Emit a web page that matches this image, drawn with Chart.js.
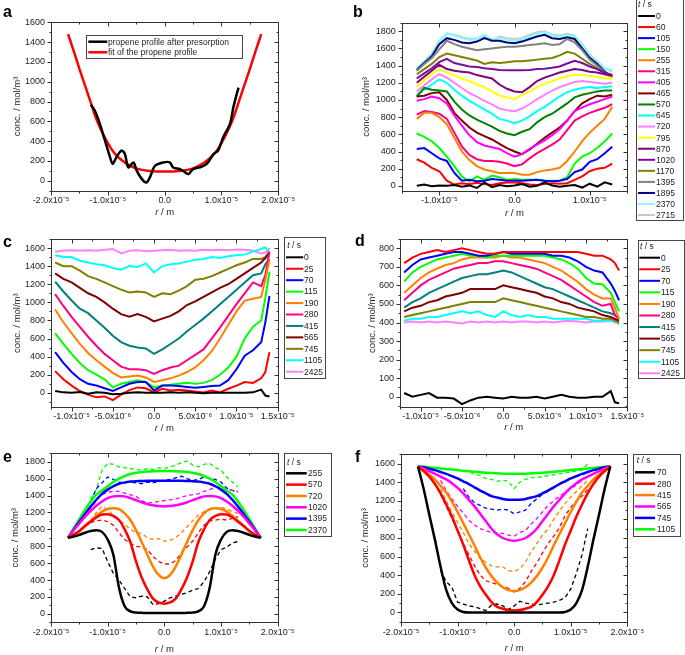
<!DOCTYPE html>
<html><head><meta charset="utf-8">
<script src="https://cdn.jsdelivr.net/npm/chart.js@4.4.1/dist/chart.umd.min.js"></script>
<style>
html,body{margin:0;padding:0;background:#fff;}
#wrap{position:relative;width:685px;height:655px;overflow:hidden;background:#fff;}
canvas{position:absolute;}
</style></head><body><div id="wrap"></div>
<script>
// ================= DATA =================
// x positions in micrometres (1 um = 1e-6 m)
const rFit = [-17,-16,-15,-14,-13,-12,-11,-10,-9,-8,-7,-6,-5,-4,-3,-2,-1,0,1,2,3,4,5,6,7,8,9,10,11,12,13,14,15,16,17];
const rGrid = [-13,-12,-11,-10,-9,-8,-7,-6,-5,-4,-3,-2,-1,0,1,2,3,4,5,6,7,8,9,10,11,12,13];
const rCD = [-12,-11,-10,-9,-8,-7,-6,-5,-4,-3,-2,-1,0,1,2,3,4,5,6,7,8,9,10,11,12,13,13.5,14];

// ---- panel a ----
const rA_meas = [-13.0,-12.3,-11.4,-10.5,-9.6,-9.15,-8.5,-7.6,-7.0,-6.4,-5.5,-4.9,-4.0,-3.2,-2.6,-1.7,-0.2,0.9,1.5,2.7,3.6,4.2,5.0,6.2,7.4,8.6,9.4,10.3,11.5,12.1,12.7,13.0];
const cA_meas = [768,710,575,406,237,170,237,305,271,135,186,100,17,-17,34,152,186,186,135,118,85,68,118,135,170,270,305,440,575,744,880,940];
const cA_fit = [1480,1310,1130,960,790,620,490,380,290,230,185,150,125,110,102,97,95,95,95,97,102,110,125,150,185,230,290,380,490,620,790,960,1130,1310,1480];
const aLegend = ['propene profile after presorption','fit of the propene profile'];

// ---- panel b ----
const tB = ['0','60','105','150','255','315','405','465','570','645','720','795','870','1020','1170','1395','1895','2370','2715'];
const colB = ['#000000','#ff0000','#0000ff','#00ff00','#ff8000','#ff0080','#ff00ff','#800000','#008000','#00ffff','#ff80ff','#ffff00','#800080','#7a0aa0','#808000','#808080','#000080','#80ffff','#c8c8c8'];
const b0 = [0,15,-5,5,0,10,-10,5,-25,40,-15,10,-5,5,20,-10,0,40,5,-10,0,10,-20,25,-10,40,15];
const b60 = [310,270,210,170,60,15,30,20,35,20,10,30,40,40,30,15,10,20,30,25,30,70,110,170,200,210,260];
const b105 = [430,440,380,320,290,150,60,70,55,60,80,70,60,60,60,65,70,60,55,60,80,160,190,280,310,380,455];
const b150 = [610,570,520,440,340,230,110,50,110,70,120,100,70,80,70,70,70,60,60,60,100,260,340,380,440,520,610];
const b255 = [780,850,850,800,720,560,400,300,230,190,170,150,150,150,130,130,160,180,190,210,290,400,520,620,700,780,920];
const b315 = [830,870,860,840,780,620,460,360,310,290,290,280,260,230,250,320,380,430,480,540,650,760,810,850,880,910,950];
const b405 = [990,1010,1040,1020,960,820,700,590,510,470,450,430,380,340,370,430,480,530,590,660,760,870,910,950,980,1010,1040];
const b465 = [1040,1050,1080,1090,1000,850,760,680,620,580,540,490,440,400,370,420,490,560,620,680,760,870,960,1010,1050,1040,1060];
const b570 = [1040,1140,1120,1110,1100,980,890,820,770,730,690,640,610,590,630,660,740,800,840,900,960,1030,1060,1080,1100,1110,1110];
const b645 = [1060,1120,1180,1240,1200,1120,1050,990,940,890,840,780,760,730,760,810,870,920,980,1040,1090,1120,1140,1150,1140,1150,1160];
const b720 = [1100,1170,1240,1300,1260,1200,1140,1080,1040,990,950,900,880,870,900,950,1010,1060,1110,1150,1180,1210,1220,1210,1200,1190,1200];
const b795 = [1150,1230,1300,1360,1320,1290,1250,1220,1180,1150,1100,1050,1030,1010,1060,1100,1150,1190,1220,1250,1280,1290,1290,1280,1270,1250,1250];
const b870 = [1200,1270,1340,1410,1360,1340,1330,1320,1290,1270,1250,1180,1130,1100,1090,1150,1220,1260,1290,1320,1340,1360,1350,1330,1320,1300,1290];
const b1020 = [1250,1310,1370,1440,1480,1430,1410,1390,1385,1370,1360,1350,1345,1346,1345,1350,1360,1365,1375,1390,1425,1455,1430,1390,1360,1320,1290];
const b1170 = [1300,1360,1420,1500,1540,1520,1500,1480,1460,1420,1440,1430,1440,1450,1450,1460,1470,1480,1490,1520,1560,1540,1480,1420,1370,1300,1270];
const b1395 = [1340,1420,1490,1590,1690,1650,1620,1600,1580,1590,1600,1610,1620,1620,1630,1640,1650,1660,1640,1650,1710,1670,1580,1470,1400,1320,1280];
const b1895 = [1350,1430,1510,1650,1720,1700,1670,1660,1680,1720,1690,1690,1670,1660,1680,1710,1740,1760,1720,1710,1730,1710,1600,1490,1420,1330,1270];
const b2370 = [1360,1440,1530,1680,1780,1750,1720,1700,1710,1760,1700,1720,1700,1690,1700,1740,1770,1790,1750,1740,1760,1740,1640,1520,1440,1360,1350];
const b2715 = [1370,1450,1540,1690,1770,1760,1730,1710,1720,1740,1690,1740,1720,1710,1720,1760,1790,1800,1760,1750,1770,1750,1650,1530,1450,1370,1330];
const cB = [b0,b60,b105,b150,b255,b315,b405,b465,b570,b645,b720,b795,b870,b1020,b1170,b1395,b1895,b2370,b2715];

// ---- panels c, d ----
const tCD = ['0','25','70','115','190','280','415','565','745','1105','2425'];
const colCD = ['#000000','#ff0000','#0000ff','#00ff00','#ff8000','#ff0080','#008080','#800000','#808000','#00ffff','#ff80ff'];
const c0 = [20,5,0,10,-10,5,0,-15,-10,0,5,0,0,0,5,0,5,0,-5,0,0,0,0,0,5,35,-30,-40];
const c25 = [240,150,80,20,-20,-50,-40,-80,-20,30,60,50,5,45,25,35,25,15,5,25,5,45,80,120,110,160,230,450];
const c70 = [450,330,230,150,100,80,50,20,60,100,120,120,25,80,80,75,65,55,65,75,80,140,260,410,470,560,780,1070];
const c115 = [660,540,430,330,250,200,150,60,100,120,140,120,60,80,90,100,110,100,110,140,200,280,400,600,730,800,1050,1340];
const c190 = [920,780,660,540,440,360,290,220,170,180,190,170,120,140,160,190,230,280,360,460,600,750,900,1020,1040,1060,1250,1470];
const c280 = [1090,960,840,730,620,520,430,360,290,260,260,250,210,250,280,300,360,420,480,600,720,850,980,1100,1220,1180,1300,1560];
const c415 = [1230,1120,1020,930,880,800,720,630,560,520,500,490,430,480,540,600,680,750,820,900,980,1060,1140,1220,1300,1320,1420,1480];
const c565 = [1320,1260,1220,1160,1100,1060,1000,930,870,840,870,840,790,820,850,900,970,1010,1060,1110,1160,1200,1260,1320,1380,1440,1490,1550];
const c745 = [1440,1400,1400,1350,1290,1260,1220,1180,1140,1110,1120,1110,1060,1100,1090,1130,1180,1250,1260,1290,1330,1370,1410,1440,1480,1480,1500,1560];
const c1105 = [1520,1500,1500,1460,1440,1420,1410,1380,1360,1400,1390,1430,1330,1400,1420,1430,1450,1470,1480,1500,1490,1510,1520,1530,1560,1590,1610,1540];
const c2425 = [1560,1570,1575,1570,1575,1570,1580,1590,1540,1570,1575,1565,1570,1575,1580,1570,1575,1570,1580,1575,1580,1575,1585,1580,1570,1540,1550,1600];
const cC = [c0,c25,c70,c115,c190,c280,c415,c565,c745,c1105,c2425];

const d0 = [20,0,10,20,-5,-5,-10,-40,-20,-5,0,-5,-10,0,-5,-5,0,-10,0,10,0,-5,-5,0,0,30,-30,-35];
const d25 = [720,750,770,780,790,780,790,800,790,780,770,770,780,780,780,780,780,780,780,780,780,780,770,760,760,740,720,680];
const d70 = [670,710,740,750,760,770,780,780,770,760,760,770,780,770,770,770,770,770,760,760,750,730,700,680,670,610,570,520];
const d115 = [620,670,700,720,740,750,760,770,760,760,750,760,760,760,760,760,760,760,750,740,720,690,640,610,605,560,510,460];
const d190 = [560,600,640,670,690,710,720,740,750,750,750,750,760,750,750,740,730,720,700,680,650,620,580,550,530,530,480,420];
const d280 = [520,560,600,630,650,670,690,700,710,720,720,730,730,720,710,700,690,670,650,630,600,570,540,510,490,500,440,420];
const d415 = [480,510,530,560,580,600,620,640,650,660,660,670,680,670,650,630,610,590,580,560,540,520,500,480,460,450,440,420];
const d565 = [460,480,490,510,520,540,550,560,580,580,580,580,600,590,580,570,560,540,530,510,500,480,470,460,440,430,420,410];
const d745 = [430,440,450,460,470,480,490,500,510,510,510,510,530,520,510,500,490,480,470,460,450,440,430,430,420,420,410,400];
const d1105 = [410,420,420,430,430,440,450,460,450,460,440,430,460,440,430,440,430,430,420,420,420,420,420,410,410,410,410,390];
const d2425 = [400,405,400,405,400,405,400,395,405,400,405,400,405,400,405,405,400,405,400,405,410,405,400,405,405,410,400,400];
const cD = [d0,d25,d70,d115,d190,d280,d415,d565,d745,d1105,d2425];

// ---- panel e ----
const tE = ['255','570','720','1020','1395','2370'];
const colE = ['#000000','#ff0000','#ff8000','#ff00ff','#0000ff','#00ff00'];
const eFit255 = [900,915,935,960,980,990,970,880,700,310,90,30,15,12,10,10,10,10,10,10,10,12,15,30,90,310,700,880,970,990,980,960,935,915,900];
const eFit570 = [900,935,980,1040,1090,1140,1175,1180,1160,1110,1000,850,620,430,290,180,135,120,135,180,290,430,620,850,1000,1110,1160,1180,1175,1140,1090,1040,980,935,900];
const eFit720 = [900,935,980,1040,1100,1160,1210,1240,1250,1240,1190,1110,990,850,700,560,460,420,460,560,700,850,990,1110,1190,1240,1250,1240,1210,1160,1100,1040,980,935,900];
const eFit1020 = [900,990,1070,1150,1220,1280,1330,1370,1390,1395,1390,1370,1345,1320,1300,1285,1275,1270,1275,1285,1300,1320,1345,1370,1390,1395,1390,1370,1330,1280,1220,1150,1070,990,900];
const eFit1395 = [900,995,1090,1180,1270,1350,1420,1470,1510,1540,1555,1565,1570,1572,1575,1575,1575,1575,1575,1575,1575,1572,1570,1565,1555,1540,1510,1470,1420,1350,1270,1180,1090,995,900];
const eFit2370 = [900,1010,1120,1230,1330,1410,1460,1510,1560,1600,1630,1655,1670,1680,1685,1688,1690,1690,1690,1688,1685,1680,1670,1655,1630,1600,1560,1510,1460,1410,1330,1230,1120,1010,900];
const eMeas255 = [760,780,775,620,480,400,300,200,190,210,200,110,120,150,190,210,230,250,280,300,380,500,650,760,790,840,855];
const eMeas570 = [1080,1100,1110,1090,1050,960,880,830,800,790,760,680,620,590,590,630,720,790,860,960,1050,1100,1110,1120,1110,1130,1150];
const eMeas720 = [1100,1200,1270,1240,1160,1110,1060,1000,960,950,900,880,890,860,870,900,960,1030,1100,1170,1210,1230,1250,1260,1240,1210,1190];
const eMeas1020 = [1210,1350,1410,1440,1450,1450,1430,1410,1390,1340,1310,1320,1330,1340,1350,1360,1380,1400,1410,1420,1450,1470,1500,1500,1480,1460,1450];
const eMeas1395 = [1330,1480,1550,1620,1590,1560,1550,1560,1550,1540,1560,1550,1570,1580,1590,1610,1630,1600,1580,1590,1620,1600,1590,1560,1490,1460,1440];
const eMeas2370 = [1360,1470,1700,1780,1770,1740,1730,1720,1710,1700,1720,1710,1730,1720,1740,1760,1790,1810,1760,1740,1770,1780,1730,1700,1620,1560,1500];
const eFits = [eFit255,eFit570,eFit720,eFit1020,eFit1395,eFit2370];
const eMeas = [eMeas255,eMeas570,eMeas720,eMeas1020,eMeas1395,eMeas2370];

// ---- panel f ----
const tF = ['70','280','415','565','745','1105'];
const colF = ['#000000','#ff0000','#ff8000','#ff00ff','#0000ff','#00ff00'];
const fFit70 = [1570,1330,1050,780,490,240,100,30,5,0,0,0,0,0,0,0,0,0,0,0,0,0,0,0,0,0,5,30,100,240,490,780,1050,1330,1570];
const fFit280 = [1570,1520,1460,1380,1280,1160,1030,880,730,560,400,280,190,110,60,40,25,20,25,40,60,110,190,280,400,560,730,880,1030,1160,1280,1380,1460,1520,1570];
const fFit415 = [1570,1530,1480,1430,1360,1290,1190,1080,960,840,720,590,480,390,320,270,240,230,240,270,320,390,480,590,720,840,960,1080,1190,1290,1360,1430,1480,1530,1570];
const fFit565 = [1570,1545,1520,1490,1460,1430,1390,1340,1280,1210,1140,1060,980,900,840,800,780,770,780,800,840,900,980,1060,1140,1210,1280,1340,1390,1430,1460,1490,1520,1545,1570];
const fFit745 = [1570,1560,1545,1530,1510,1490,1465,1440,1410,1380,1345,1310,1280,1250,1235,1220,1212,1210,1212,1220,1235,1250,1280,1310,1345,1380,1410,1440,1465,1490,1510,1530,1545,1560,1570];
const fFit1105 = [1570,1565,1560,1554,1548,1542,1536,1530,1524,1518,1512,1507,1502,1498,1495,1492,1490,1490,1490,1492,1495,1498,1502,1507,1512,1518,1524,1530,1536,1542,1548,1554,1560,1565,1570];
const fMeas70 = [450,330,270,110,90,70,60,40,20,80,90,70,30,70,120,100,90,80,90,100,110,130,160,250,420,620,900];
const fMeas280 = [1270,1140,1010,880,740,620,500,400,340,320,300,280,260,220,260,330,440,530,640,740,820,910,1040,1130,1200,1250,1320];
const fMeas415 = [1330,1200,1080,970,860,740,660,580,540,500,490,490,450,440,470,540,650,740,830,900,1000,1090,1170,1240,1300,1360,1420];
const fMeas565 = [1420,1310,1220,1140,1070,990,940,900,880,860,850,850,830,820,860,880,950,1010,1080,1150,1200,1250,1290,1330,1370,1420,1470];
const fMeas745 = [null,null,null,null,1330,1240,1180,1150,1120,1110,1100,1110,1100,1060,1080,1100,1170,1220,1270,1300,1340,1380,1410,1440,1460,1480,1500];
const fMeas1105 = [null,null,null,null,1520,1510,1490,1470,1440,1430,1410,1420,1410,1330,1400,1430,1450,1450,1460,1470,1480,1490,1500,1510,1520,1530,1600];
const fFits = [fFit70,fFit280,fFit415,fFit565,fFit745,fFit1105];
const fMeas = [fMeas70,fMeas280,fMeas415,fMeas565,fMeas745,fMeas1105];

// ---- axis ticks ----
const xTicksWide = [-20,-10,0,10,20];
const xLabelsWide = ['-2.0x10\u207B\u2075','-1.0x10\u207B\u2075','0.0','1.0x10\u207B\u2075','2.0x10\u207B\u2075'];
const xTicksB = [-10,0,10];
const xLabelsB = ['-1.0x10\u207B\u2075','0.0','1.0x10\u207B\u2075'];
const xTicksCD = [-10,-5,0,5,10,15];
const xLabelsCD = ['-1.0x10\u207B\u2075','-5.0x10\u207B\u2076','0.0','5.0x10\u207B\u2076','1.0x10\u207B\u2075','1.5x10\u207B\u2075'];
const yTicks1600 = [0,200,400,600,800,1000,1200,1400,1600];
const yTicks1800 = [0,200,400,600,800,1000,1200,1400,1600,1800];
const yTicks800 = [0,100,200,300,400,500,600,700,800];

// ================= DRAWING =================
const FONT = '"Liberation Sans", Arial, sans-serif';

function line(xs, ys, color, w, extra) {
  return Object.assign({
    data: xs.map((x, i) => ({x: x, y: ys[i]})),
    borderColor: color, backgroundColor: color, borderWidth: w,
    pointRadius: 0, fill: false, tension: 0, spanGaps: false
  }, extra || {});
}
function minors(t, min, max) {
  const s = t[1] - t[0], out = [];
  for (let v = t[0] - s / 2; v <= max + 1e-9; v += s) if (v >= min - 1e-9) out.push(v);
  return out;
}

const decor = {
  id: 'decor',
  afterDraw(chart, args, o) {
    const ctx = chart.ctx, a = chart.chartArea, xs = chart.scales.x, ys = chart.scales.y;
    ctx.save();
    const L = Math.round(a.left) + 0.5, R = Math.round(a.right) + 0.5, T = Math.round(a.top) + 0.5, B = Math.round(a.bottom) + 0.5;
    ctx.strokeStyle = '#333'; ctx.lineWidth = 1; ctx.setLineDash([]);
    ctx.strokeRect(L, T, R - L, B - T);
    ctx.beginPath();
    const xm = (vals, len) => vals.forEach(v => {
      const p = Math.round(xs.getPixelForValue(v)) + 0.5;
      ctx.moveTo(p, B); ctx.lineTo(p, B + len); ctx.moveTo(p, T); ctx.lineTo(p, T + len);
    });
    const ym = (vals, len) => vals.forEach(v => {
      const p = Math.round(ys.getPixelForValue(v)) + 0.5;
      ctx.moveTo(L, p); ctx.lineTo(L - len, p); ctx.moveTo(R, p); ctx.lineTo(R - len, p);
    });
    xm(o.xTicks, 4); xm(minors(o.xTicks, xs.min, xs.max), 2);
    ym(o.yTicks, 4); ym(minors(o.yTicks, ys.min, ys.max), 2);
    ctx.stroke();

    ctx.fillStyle = '#222';
    // y title
    ctx.font = '9.5px ' + FONT;
    ctx.save();
    ctx.translate(a.left - o.yTitleOff, (a.top + a.bottom) / 2);
    ctx.rotate(-Math.PI / 2);
    ctx.textAlign = 'center'; ctx.textBaseline = 'middle';
    ctx.fillText('conc. / mol/m\u00B3', 0, 0);
    ctx.restore();
    // x title with italic r
    italicPair(ctx, 'r', ' / m', (a.left + a.right) / 2, a.bottom + o.xTitleOff, 9.5, true);
    // panel letter
    ctx.font = 'bold 16px ' + FONT; ctx.textAlign = 'left'; ctx.textBaseline = 'alphabetic'; ctx.fillStyle = '#000';
    ctx.fillText(o.letter.t, o.letter.x, o.letter.y);
    // legend
    if (o.legend) drawLegend(ctx, o.legend);
    ctx.restore();
  }
};

function italicPair(ctx, it, rest, x, y, fs, center) {
  ctx.save();
  ctx.textBaseline = 'middle'; ctx.textAlign = 'left'; ctx.fillStyle = '#222';
  ctx.font = 'italic ' + fs + 'px ' + FONT; const w1 = ctx.measureText(it).width;
  ctx.font = fs + 'px ' + FONT; const w2 = ctx.measureText(rest).width;
  const x0 = center ? x - (w1 + w2) / 2 : x;
  ctx.font = 'italic ' + fs + 'px ' + FONT; ctx.fillText(it, x0, y);
  ctx.font = fs + 'px ' + FONT; ctx.fillText(rest, x0 + w1, y);
  ctx.restore();
}

function drawLegend(ctx, G) {
  ctx.save();
  ctx.fillStyle = '#fff';
  ctx.fillRect(G.box[0], G.box[1], G.box[2] - G.box[0], G.box[3] - G.box[1]);
  ctx.strokeStyle = '#444'; ctx.lineWidth = 1;
  ctx.strokeRect(Math.round(G.box[0]) + 0.5, Math.round(G.box[1]) + 0.5, Math.round(G.box[2] - G.box[0]), Math.round(G.box[3] - G.box[1]));
  if (G.header) italicPair(ctx, 't', ' / s', G.header.x, G.header.y, G.fs, false);
  ctx.font = G.fs + 'px ' + FONT; ctx.fillStyle = '#222'; ctx.textBaseline = 'middle'; ctx.textAlign = 'left';
  G.items.forEach((it, i) => {
    const y = G.y0 + i * G.dy;
    ctx.strokeStyle = it.color; ctx.lineWidth = G.lw;
    ctx.beginPath(); ctx.moveTo(G.lx0, y); ctx.lineTo(G.lx1, y); ctx.stroke();
    ctx.fillStyle = '#222';
    ctx.fillText(it.label, G.tx, y + 0.5);
  });
  ctx.restore();
}

function makePanel(p) {
  const cv = document.createElement('canvas');
  cv.width = p.box[2]; cv.height = p.box[3];
  cv.style.left = p.box[0] + 'px'; cv.style.top = p.box[1] + 'px';
  cv.style.width = p.box[2] + 'px'; cv.style.height = p.box[3] + 'px';
  document.getElementById('wrap').appendChild(cv);
  const tickFont = {family: FONT, size: 9};
  new Chart(cv, {
    type: 'line',
    data: {datasets: p.datasets},
    options: {
      responsive: false, animation: false, devicePixelRatio: 1,
      layout: {padding: p.pad},
      plugins: {legend: {display: false}, tooltip: {enabled: false}, decor: p.decor},
      scales: {
        x: {
          type: 'linear', min: p.xMin, max: p.xMax,
          grid: {display: false, drawTicks: false}, border: {display: false},
          ticks: {font: tickFont, color: '#222', padding: p.xPad || 4, maxRotation: 0, autoSkip: false,
            callback: (v) => { const i = p.decor.xTicks.indexOf(v); return i >= 0 ? p.xLabels[i] : ''; }},
          afterBuildTicks: (s) => { s.ticks = p.decor.xTicks.map(v => ({value: v})); },
          afterFit: (s) => { s.height = 20; s.paddingLeft = 0; s.paddingRight = 0; }
        },
        y: {
          type: 'linear', min: p.yMin, max: p.yMax,
          grid: {display: false, drawTicks: false}, border: {display: false},
          ticks: {font: tickFont, color: '#222', padding: 6, autoSkip: false, callback: (v) => String(v)},
          afterBuildTicks: (s) => { s.ticks = p.decor.yTicks.map(v => ({value: v})); },
          afterFit: (s) => { s.width = 40; s.paddingTop = 0; s.paddingBottom = 0; }
        }
      }
    },
    plugins: [decor]
  });
}

// ---- panel a ----
makePanel({
  box: [0, 0, 340, 215], pad: {left: 11, top: 22.3, right: 61.7, bottom: 4.3},
  xMin: -20, xMax: 20, yMin: -100, yMax: 1600, xLabels: xLabelsWide,
  datasets: [
    line(rA_meas, cA_meas, '#000000', 2.5, {tension: 0.3}),
    line(rFit, cA_fit, '#ff0000', 2.5, {cubicInterpolationMode: 'monotone'})
  ],
  decor: {
    xTicks: xTicksWide, yTicks: yTicks1600, yTitleOff: 34, xTitleOff: 22,
    letter: {t: 'a', x: 3, y: 17},
    legend: {box: [86, 35, 241.7, 57.7], fs: 8.5, lw: 2.5, y0: 41.7, dy: 10.6, lx0: 88.3, lx1: 107.3, tx: 108,
      items: [{label: aLegend[0], color: '#000000'}, {label: aLegend[1], color: '#ff0000'}]}
  }
});

// ---- panel b ----
makePanel({
  box: [340, 0, 345, 222], pad: {left: 21.7, top: 22.7, right: 57.7, bottom: 11},
  xMin: -15, xMax: 15, yMin: -60, yMax: 1900, xLabels: xLabelsB,
  datasets: cB.map((ys, i) => line(rGrid, ys, colB[i], 2)),
  decor: {
    xTicks: xTicksB, yTicks: yTicks1800, yTitleOff: 35, xTitleOff: 22,
    letter: {t: 'b', x: 13, y: 17},
    legend: {box: [295.7, -1, 342.7, 220], fs: 8.5, lw: 2, y0: 16, dy: 11.06, lx0: 298, lx1: 315, tx: 316,
      header: {x: 298, y: 5}, items: tB.map((t, i) => ({label: t, color: colB[i]}))}
  }
});

// ---- panel c ----
makePanel({
  box: [0, 215, 340, 225], pad: {left: 11, top: 24, right: 62.3, bottom: 12.7},
  xMin: -12.5, xMax: 15, yMin: -160, yMax: 1700, xLabels: xLabelsCD,
  datasets: cC.map((ys, i) => line(rCD, ys, colCD[i], 2)),
  decor: {
    xTicks: xTicksCD, yTicks: yTicks1600, yTitleOff: 34, xTitleOff: 21,
    letter: {t: 'c', x: 3, y: 32},
    legend: {box: [283.7, 21.7, 324.3, 162.7], fs: 8.5, lw: 2, y0: 42.3, dy: 11.44, lx0: 286, lx1: 303.3, tx: 304,
      header: {x: 287.3, y: 30.7}, items: tCD.map((t, i) => ({label: t, color: colCD[i]}))}
  }
});

// ---- panel d ----
makePanel({
  box: [340, 215, 345, 225], pad: {left: 20, top: 24, right: 57.7, bottom: 12.7},
  xMin: -12.5, xMax: 15, yMin: -57, yMax: 850, xLabels: xLabelsCD,
  datasets: cD.map((ys, i) => line(rCD, ys, colCD[i], 2)),
  decor: {
    xTicks: xTicksCD, yTicks: yTicks800, yTitleOff: 28, xTitleOff: 20,
    letter: {t: 'd', x: 15, y: 31},
    legend: {box: [297.7, 25, 343.3, 163.3], fs: 8.5, lw: 2, y0: 42.7, dy: 11.56, lx0: 299.3, lx1: 320, tx: 321,
      header: {x: 300, y: 31.7}, items: tCD.map((t, i) => ({label: t, color: colCD[i]}))}
  }
});

// ---- panel e ----
makePanel({
  box: [0, 440, 340, 215], pad: {left: 11, top: 13.3, right: 62.3, bottom: 12.7},
  xMin: -20, xMax: 20, yMin: -100, yMax: 1900, xLabels: xLabelsWide, xPad: 5,
  datasets: eFits.map((ys, i) => line(rFit, ys, colE[i], 2.5, {cubicInterpolationMode: 'monotone'}))
    .concat(eMeas.map((ys, i) => line(rGrid, ys, colE[i], 1.3, {borderDash: [4, 3]}))),
  decor: {
    xTicks: xTicksWide, yTicks: yTicks1800, yTitleOff: 36, xTitleOff: 27,
    letter: {t: 'e', x: 3, y: 22},
    legend: {box: [283.7, 13.3, 331, 96], fs: 8.5, lw: 2.5, y0: 33.3, dy: 11.33, lx0: 286, lx1: 306.7, tx: 308,
      header: {x: 287, y: 22.3}, items: tE.map((t, i) => ({label: t, color: colE[i]}))}
  }
});

// ---- panel f ----
makePanel({
  box: [340, 440, 345, 215], pad: {left: 21, top: 14.3, right: 57.7, bottom: 13.3},
  xMin: -20, xMax: 20, yMin: -100, yMax: 1700, xLabels: xLabelsWide, xPad: 5,
  datasets: fFits.map((ys, i) => line(rFit, ys, colF[i], 2.5, {cubicInterpolationMode: 'monotone'}))
    .concat(fMeas.map((ys, i) => line(rGrid, ys, colF[i], 1.3, {borderDash: [4, 3]}))),
  decor: {
    xTicks: xTicksWide, yTicks: yTicks1600, yTitleOff: 36, xTitleOff: 27,
    letter: {t: 'f', x: 15, y: 22},
    legend: {box: [293.3, 14.3, 340, 96], fs: 8.5, lw: 2.5, y0: 32.3, dy: 11.4, lx0: 295, lx1: 315, tx: 317,
      header: {x: 296.7, y: 20.7}, items: tF.map((t, i) => ({label: t, color: colF[i]}))}
  }
});
</script></body></html>
